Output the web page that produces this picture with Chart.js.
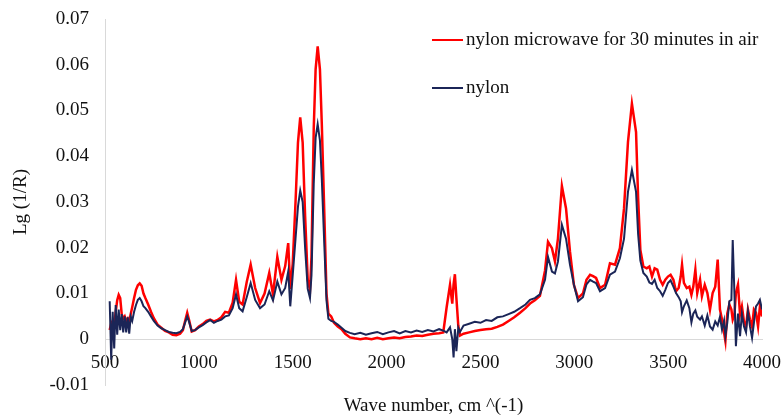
<!DOCTYPE html>
<html lang="en">
<head>
<meta charset="UTF-8">
<title>Nylon spectra</title>
<script src="https://cdn.jsdelivr.net/npm/chart.js"></script>
<style>
  html, body { margin: 0; padding: 0; background: #fff; }
  #wrap { width: 784px; height: 419px; }
</style>
</head>
<body>
<div id="wrap"><canvas id="spectrumChart"></canvas></div>
<script>
// wave numbers, cm^-1
const waveNumbers = [
  525, 533, 541, 549, 557, 565, 573, 581, 589, 597,
  605, 613, 621, 629, 637, 645, 655, 665, 675, 685,
  695, 705, 715, 730, 745, 760, 780, 800, 820, 840,
  860, 880, 900, 915, 928, 938, 948, 962, 980, 1000,
  1020, 1040, 1060, 1080, 1100, 1120, 1140, 1160, 1180, 1198,
  1215, 1233, 1255, 1276, 1300, 1326, 1350, 1375, 1395, 1418,
  1440, 1460, 1476, 1487, 1500, 1515, 1528, 1540, 1553, 1566,
  1580, 1592, 1600, 1612, 1622, 1633, 1645, 1655, 1668, 1680,
  1690, 1705, 1720, 1740, 1760, 1780, 1805, 1830, 1860, 1890,
  1920, 1950, 1980, 2010, 2040, 2070, 2100, 2130, 2160, 2190,
  2220, 2250, 2280, 2302, 2320, 2338, 2350, 2357, 2364, 2372,
  2382, 2391, 2410, 2440, 2470, 2500, 2530, 2560, 2590, 2620,
  2650, 2680, 2711, 2740, 2764, 2790, 2817, 2844, 2860, 2881,
  2897, 2913, 2934, 2956, 2977, 2998, 3020, 3046, 3065, 3084,
  3100, 3116, 3137, 3164, 3190, 3217, 3243, 3265, 3286, 3307,
  3329, 3340, 3352, 3368, 3386, 3400, 3414, 3428, 3442, 3457,
  3471, 3485, 3499, 3513, 3528, 3542, 3556, 3567, 3574, 3584,
  3599, 3613, 3624, 3634, 3645, 3655, 3670, 3680, 3695, 3709,
  3723, 3737, 3751, 3764, 3776, 3787, 3798, 3805, 3815, 3826,
  3837, 3844, 3853, 3861, 3872, 3883, 3893, 3904, 3915, 3925,
  3936, 3947, 3957, 3968, 3979, 3989, 4000
];

// nylon microwave for 30 minutes in air
const microwaveValues = [
  0.0020, 0.0035, 0.0040, 0.0030, 0.0060, 0.0085, 0.0097, 0.0090, 0.0055, 0.0045,
  0.0050, 0.0040, 0.0045, 0.0035, 0.0055, 0.0070, 0.0090, 0.0108, 0.0118, 0.0122,
  0.0117, 0.0100, 0.0090, 0.0076, 0.0060, 0.0046, 0.0032, 0.0025, 0.0018, 0.0015,
  0.0010, 0.0009, 0.0012, 0.0020, 0.0042, 0.0058, 0.0042, 0.0017, 0.0020, 0.0028,
  0.0033, 0.0040, 0.0043, 0.0039, 0.0042, 0.0048, 0.0060, 0.0058, 0.0080, 0.0130,
  0.0082, 0.0076, 0.0125, 0.0163, 0.0112, 0.0079, 0.0100, 0.0145, 0.0098, 0.0180,
  0.0130, 0.0160, 0.0210, 0.0110, 0.0165, 0.0300, 0.0430, 0.0485, 0.0430, 0.0270,
  0.0130, 0.0108, 0.0180, 0.0460, 0.0590, 0.0640, 0.0590, 0.0470, 0.0280, 0.0100,
  0.0056, 0.0050, 0.0036, 0.0028, 0.0022, 0.0012, 0.0004, 0.0002, 0.0000, 0.0002,
  0.0000, 0.0003, 0.0000, 0.0002, 0.0004, 0.0002, 0.0005, 0.0006, 0.0008, 0.0007,
  0.0010, 0.0012, 0.0013, 0.0015, 0.0070, 0.0119, 0.0078, 0.0120, 0.0142, 0.0090,
  0.0030, 0.0008, 0.0012, 0.0015, 0.0018, 0.0020, 0.0022, 0.0023, 0.0027, 0.0032,
  0.0040, 0.0048, 0.0058, 0.0068, 0.0078, 0.0085, 0.0095, 0.0150, 0.0213, 0.0199,
  0.0170, 0.0220, 0.0335, 0.0286, 0.0192, 0.0119, 0.0090, 0.0100, 0.0130, 0.0141,
  0.0138, 0.0134, 0.0112, 0.0119, 0.0166, 0.0163, 0.0199, 0.0286, 0.0431, 0.0515,
  0.0453, 0.0310, 0.0195, 0.0159, 0.0155, 0.0159, 0.0137, 0.0155, 0.0152, 0.0130,
  0.0119, 0.0130, 0.0137, 0.0141, 0.0130, 0.0105, 0.0112, 0.0137, 0.0163, 0.0123,
  0.0112, 0.0115, 0.0097, 0.0115, 0.0152, 0.0101, 0.0130, 0.0094, 0.0119, 0.0101,
  0.0065, 0.0101, 0.0115, 0.0174, 0.0065, 0.0043, 0.0014, -0.0004, 0.0056, 0.0076,
  0.0065, 0.0043, 0.0054, 0.0101, 0.0119, 0.0054, 0.0072, 0.0039, 0.0028, 0.0065,
  0.0043, 0.0028, 0.0065, 0.0058, 0.0028, 0.0072, 0.0050
];

// nylon
const nylonValues = [
  0.0083, -0.0045, 0.0060, -0.0020, 0.0075, 0.0010, 0.0065, 0.0020, 0.0055, 0.0015,
  0.0050, 0.0015, 0.0048, 0.0012, 0.0050, 0.0040, 0.0060, 0.0075, 0.0086, 0.0090,
  0.0083, 0.0072, 0.0068, 0.0060, 0.0050, 0.0040, 0.0030, 0.0024, 0.0020, 0.0016,
  0.0014, 0.0013, 0.0016, 0.0022, 0.0038, 0.0050, 0.0038, 0.0018, 0.0020, 0.0026,
  0.0031, 0.0037, 0.0042, 0.0036, 0.0040, 0.0043, 0.0050, 0.0052, 0.0068, 0.0098,
  0.0068, 0.0061, 0.0092, 0.0123, 0.0086, 0.0068, 0.0076, 0.0105, 0.0085, 0.0126,
  0.0098, 0.0112, 0.0148, 0.0072, 0.0140, 0.0220, 0.0290, 0.0325, 0.0300, 0.0200,
  0.0110, 0.0090, 0.0140, 0.0340, 0.0440, 0.0470, 0.0435, 0.0350, 0.0210, 0.0085,
  0.0045, 0.0040, 0.0038, 0.0032, 0.0025, 0.0018, 0.0014, 0.0011, 0.0014, 0.0010,
  0.0013, 0.0016, 0.0011, 0.0015, 0.0018, 0.0013, 0.0018, 0.0015, 0.0019, 0.0016,
  0.0020, 0.0017, 0.0022, 0.0019, 0.0015, 0.0026, 0.0000, -0.0040, 0.0022, -0.0026,
  0.0025, 0.0016, 0.0030, 0.0034, 0.0038, 0.0036, 0.0042, 0.0040, 0.0048, 0.0050,
  0.0055, 0.0060, 0.0068, 0.0076, 0.0086, 0.0090, 0.0098, 0.0130, 0.0180, 0.0148,
  0.0144, 0.0170, 0.0250, 0.0220, 0.0163, 0.0119, 0.0083, 0.0092, 0.0120, 0.0130,
  0.0126, 0.0123, 0.0105, 0.0112, 0.0141, 0.0148, 0.0177, 0.0220, 0.0322, 0.0370,
  0.0322, 0.0230, 0.0172, 0.0145, 0.0137, 0.0124, 0.0121, 0.0130, 0.0112, 0.0105,
  0.0095, 0.0108, 0.0123, 0.0129, 0.0115, 0.0101, 0.0092, 0.0083, 0.0059, 0.0072,
  0.0085, 0.0068, 0.0037, 0.0056, 0.0063, 0.0049, 0.0043, 0.0050, 0.0030, 0.0052,
  0.0028, 0.0021, 0.0039, 0.0030, 0.0049, 0.0021, 0.0041, 0.0007, 0.0036, 0.0083,
  0.0086, 0.0217, 0.0101, -0.0015, 0.0056, 0.0007, 0.0056, 0.0028, 0.0015, 0.0061,
  0.0028, 0.0003, 0.0036, 0.0072, 0.0078, 0.0086, 0.0065
];

const xTicks = [500, 1000, 1500, 2000, 2500, 3000, 3500, 4000];

const serif = "'Liberation Serif', 'Times New Roman', serif";
const redColor = '#ff0000';
const navyColor = '#1b2557';

function toPoints(values) {
  return waveNumbers.map((w, i) => ({ x: w, y: values[i] }));
}

// legend and x axis title drawn by hand so they sit where the original puts them
const extras = {
  id: 'extras',
  afterDraw(chart) {
    const ctx = chart.ctx;
    const area = chart.chartArea;
    ctx.save();
    ctx.font = '19px ' + serif;
    ctx.fillStyle = '#111';
    ctx.textBaseline = 'middle';

    const items = [
      { label: 'nylon microwave for 30 minutes in air', color: redColor, y: 40 },
      { label: 'nylon', color: navyColor, y: 88 }
    ];
    items.forEach(it => {
      ctx.strokeStyle = it.color;
      ctx.lineWidth = 2;
      ctx.beginPath();
      ctx.moveTo(432, it.y);
      ctx.lineTo(463, it.y);
      ctx.stroke();
      ctx.textAlign = 'left';
      ctx.fillText(it.label, 466, it.y);
    });

    ctx.textAlign = 'center';
    ctx.fillText('Wave number, cm ^(-1)', (area.left + area.right) / 2, 406);
    ctx.restore();
  }
};

new Chart(document.getElementById('spectrumChart'), {
  type: 'line',
  data: {
    datasets: [
      {
        label: 'nylon',
        data: toPoints(nylonValues),
        borderColor: navyColor,
        borderWidth: 2,
        pointRadius: 0,
        tension: 0,
        order: 0
      },
      {
        label: 'nylon microwave for 30 minutes in air',
        data: toPoints(microwaveValues),
        borderColor: redColor,
        borderWidth: 2.5,
        pointRadius: 0,
        tension: 0,
        order: 1
      }
    ]
  },
  options: {
    responsive: true,
    maintainAspectRatio: false,
    animation: false,
    layout: { padding: { top: 19, right: 22, bottom: 34, left: 0 } },
    plugins: {
      legend: { display: false },
      tooltip: { enabled: false }
    },
    scales: {
      x: {
        type: 'linear',
        position: { y: 0 },
        min: 500,
        max: 4000,
        afterBuildTicks: s => { s.ticks = xTicks.map(v => ({ value: v })); },
        afterFit: s => { s.paddingLeft = 0; s.paddingRight = 0; },
        grid: { display: false, drawTicks: false },
        border: { display: true, color: '#d9d9d9', width: 1 },
        ticks: {
          autoSkip: false,
          maxRotation: 0,
          padding: 12,
          color: '#111',
          font: { family: serif, size: 19 },
          callback: v => String(v)
        }
      },
      y: {
        type: 'linear',
        min: -0.01,
        max: 0.07,
        afterFit: s => { s.width = 105; s.paddingTop = 0; s.paddingBottom = 0; },
        grid: { display: false, drawTicks: false },
        border: { display: true, color: '#d9d9d9', width: 1 },
        ticks: {
          stepSize: 0.01,
          padding: 16,
          color: '#111',
          font: { family: serif, size: 19 }
        },
        title: {
          display: true,
          text: 'Lg (1/R)',
          color: '#111',
          padding: { top: 10, bottom: 0 },
          font: { family: serif, size: 19 }
        }
      }
    }
  },
  plugins: [extras]
});
</script>
</body>
</html>
